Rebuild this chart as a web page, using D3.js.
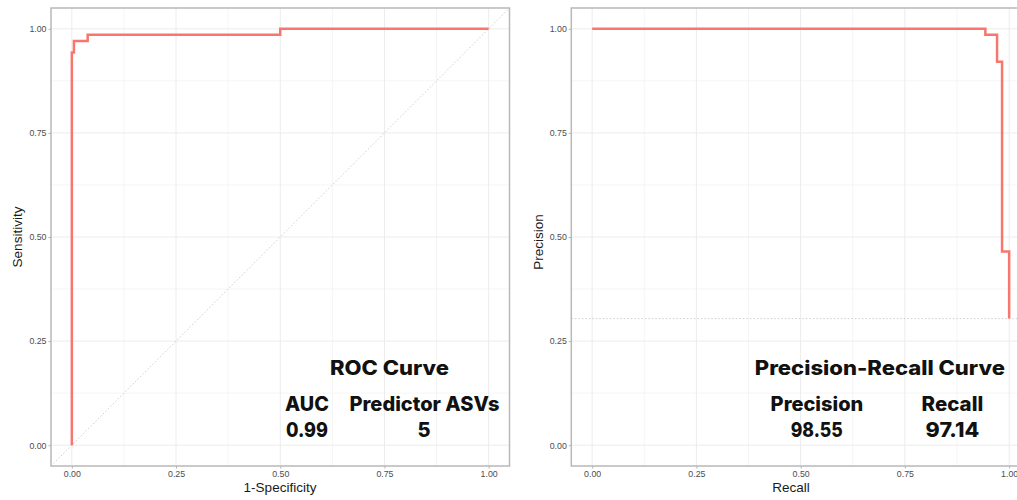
<!DOCTYPE html>
<html lang="en">
  <head>
    <meta charset="UTF-8" />
    <title>ROC and Precision-Recall Curves</title>
    <script src="https://d3js.org/d3.v7.min.js"></script>
    <style>
      body {
        margin: 0;
        background: #ffffff;
      }
      .tick text {
        font-family: "Liberation Sans", Arial, sans-serif;
        font-size: 8.8px;
        fill: #4d4d4d;
      }
      .axis-title {
        font-family: "Liberation Sans", Arial, sans-serif;
        font-size: 13.5px;
        fill: #1a1a1a;
      }
      .note {
        font-family: Inter, "Open Sans", sans-serif;
        font-weight: 800;
        font-size: 20px;
        fill: #111111;
      }
    </style>
  </head>
  <body>
    <div id="chart"></div>

    <script>
      // ROC curve (step points, drawn with curveStepAfter)
      const rocFpr = [0, 0, 0.005, 0.038, 0.5, 1];
      const rocTpr = [0, 0.943, 0.971, 0.986, 1, 1];

      // Precision-recall curve
      const prRecall = [0, 0.943, 0.971, 0.983, 1];
      const prPrecision = [1, 0.986, 0.921, 0.465, 0.304];
      const prBaseline = 0.304;

      const tickValues = [0, 0.25, 0.5, 0.75, 1];
      const minorValues = [0.125, 0.375, 0.625, 0.875];

      // annotation text, in data units of each panel
      const rocNotes = [
        { text: "ROC Curve", x: 0.762, y: 0.168, w: 119 },
        { text: "AUC", x: 0.564, y: 0.082, w: 44 },
        { text: "Predictor ASVs", x: 0.846, y: 0.082, w: 150 },
        { text: "0.99", x: 0.564, y: 0.02, w: 42 },
        { text: "5", x: 0.845, y: 0.02, w: 0 },
      ];
      const prNotes = [
        { text: "Precision-Recall Curve", x: 0.69, y: 0.168, w: 250 },
        { text: "Precision", x: 0.539, y: 0.082, w: 92.6 },
        { text: "Recall", x: 0.864, y: 0.082, w: 61.6 },
        { text: "98.55", x: 0.5385, y: 0.02, w: 52 },
        { text: "97.14", x: 0.864, y: 0.02, w: 53.6 },
      ];

      const width = 1017;
      const height = 500;
      const red = "#F8766D";

      const svg = d3
        .select("#chart")
        .append("svg")
        .attr("width", width)
        .attr("height", height);

      function drawPanel(left, right, top, bottom) {
        const x = d3.scaleLinear().domain([-0.05, 1.05]).range([left, right]);
        const y = d3.scaleLinear().domain([-0.05, 1.05]).range([bottom, top]);
        const g = svg.append("g");

        // minor grid
        g.selectAll(".minor-v")
          .data(minorValues)
          .enter()
          .append("line")
          .attr("x1", (d) => x(d))
          .attr("x2", (d) => x(d))
          .attr("y1", top)
          .attr("y2", bottom)
          .attr("stroke", "#f3f3f3")
          .attr("stroke-width", 0.8);
        g.selectAll(".minor-h")
          .data(minorValues)
          .enter()
          .append("line")
          .attr("y1", (d) => y(d))
          .attr("y2", (d) => y(d))
          .attr("x1", left)
          .attr("x2", right)
          .attr("stroke", "#f3f3f3")
          .attr("stroke-width", 0.8);

        // major grid
        g.selectAll(".major-v")
          .data(tickValues)
          .enter()
          .append("line")
          .attr("x1", (d) => x(d))
          .attr("x2", (d) => x(d))
          .attr("y1", top)
          .attr("y2", bottom)
          .attr("stroke", "#ececec")
          .attr("stroke-width", 1);
        g.selectAll(".major-h")
          .data(tickValues)
          .enter()
          .append("line")
          .attr("y1", (d) => y(d))
          .attr("y2", (d) => y(d))
          .attr("x1", left)
          .attr("x2", right)
          .attr("stroke", "#ececec")
          .attr("stroke-width", 1);

        // axes
        const xAxis = g
          .append("g")
          .attr("transform", `translate(0,${bottom})`)
          .call(
            d3.axisBottom(x).tickValues(tickValues).tickFormat(d3.format(".2f")).tickSize(2.5).tickPadding(2)
          );
        const yAxis = g
          .append("g")
          .attr("transform", `translate(${left},0)`)
          .call(
            d3.axisLeft(y).tickValues(tickValues).tickFormat(d3.format(".2f")).tickSize(2.5).tickPadding(2)
          );
        [xAxis, yAxis].forEach((a) => {
          a.select(".domain").remove();
          a.selectAll(".tick line").attr("stroke", "#b3b3b3");
        });

        return { g, x, y, left, right, top, bottom };
      }

      function drawBorder(p) {
        p.g.append("rect")
          .attr("x", p.left)
          .attr("y", p.top)
          .attr("width", p.right - p.left)
          .attr("height", p.bottom - p.top)
          .attr("fill", "none")
          .attr("stroke", "#b8b8b8")
          .attr("stroke-width", 1.5);
      }

      function drawNotes(p, notes) {
        p.g.selectAll(".note")
          .data(notes)
          .enter()
          .append("text")
          .attr("class", "note")
          .attr("x", (d) => p.x(d.x))
          .attr("y", (d) => p.y(d.y))
          .attr("text-anchor", "middle")
          .attr("textLength", (d) => (d.w ? d.w : null))
          .attr("lengthAdjust", "spacingAndGlyphs")
          .text((d) => d.text);
      }

      // ---- ROC panel ----
      const roc = drawPanel(51, 509.5, 8, 466);

      roc.g.append("line")
        .attr("x1", roc.x(-0.05))
        .attr("y1", roc.y(-0.05))
        .attr("x2", roc.x(1.05))
        .attr("y2", roc.y(1.05))
        .attr("stroke", "#c8c8c8")
        .attr("stroke-width", 0.9)
        .attr("stroke-dasharray", "1.5,2");

      const rocLine = d3
        .line()
        .x((d) => roc.x(d[0]))
        .y((d) => roc.y(d[1]))
        .curve(d3.curveStepAfter);

      roc.g.append("path")
        .attr("d", rocLine(d3.zip(rocFpr, rocTpr)))
        .attr("fill", "none")
        .attr("stroke", red)
        .attr("stroke-width", 2.5);

      drawBorder(roc);
      drawNotes(roc, rocNotes);

      svg.append("text")
        .attr("class", "axis-title")
        .attr("x", 280)
        .attr("y", 492)
        .attr("text-anchor", "middle")
        .text("1-Specificity");
      svg.append("text")
        .attr("class", "axis-title")
        .attr("transform", "translate(21.5,237) rotate(-90)")
        .attr("text-anchor", "middle")
        .text("Sensitivity");

      // ---- Precision-recall panel ----
      const pr = drawPanel(571.3, 1030, 8, 466);

      pr.g.append("line")
        .attr("x1", pr.x(-0.05))
        .attr("x2", pr.x(1.05))
        .attr("y1", pr.y(prBaseline))
        .attr("y2", pr.y(prBaseline))
        .attr("stroke", "#c8c8c8")
        .attr("stroke-width", 0.9)
        .attr("stroke-dasharray", "1.5,2");

      const prLine = d3
        .line()
        .x((d) => pr.x(d[0]))
        .y((d) => pr.y(d[1]))
        .curve(d3.curveStepAfter);

      pr.g.append("path")
        .attr("d", prLine(d3.zip(prRecall, prPrecision)))
        .attr("fill", "none")
        .attr("stroke", red)
        .attr("stroke-width", 2.5);

      drawBorder(pr);
      drawNotes(pr, prNotes);

      svg.append("text")
        .attr("class", "axis-title")
        .attr("x", 791)
        .attr("y", 492)
        .attr("text-anchor", "middle")
        .text("Recall");
      svg.append("text")
        .attr("class", "axis-title")
        .attr("transform", "translate(543,242) rotate(-90)")
        .attr("text-anchor", "middle")
        .text("Precision");
    </script>
  </body>
</html>
